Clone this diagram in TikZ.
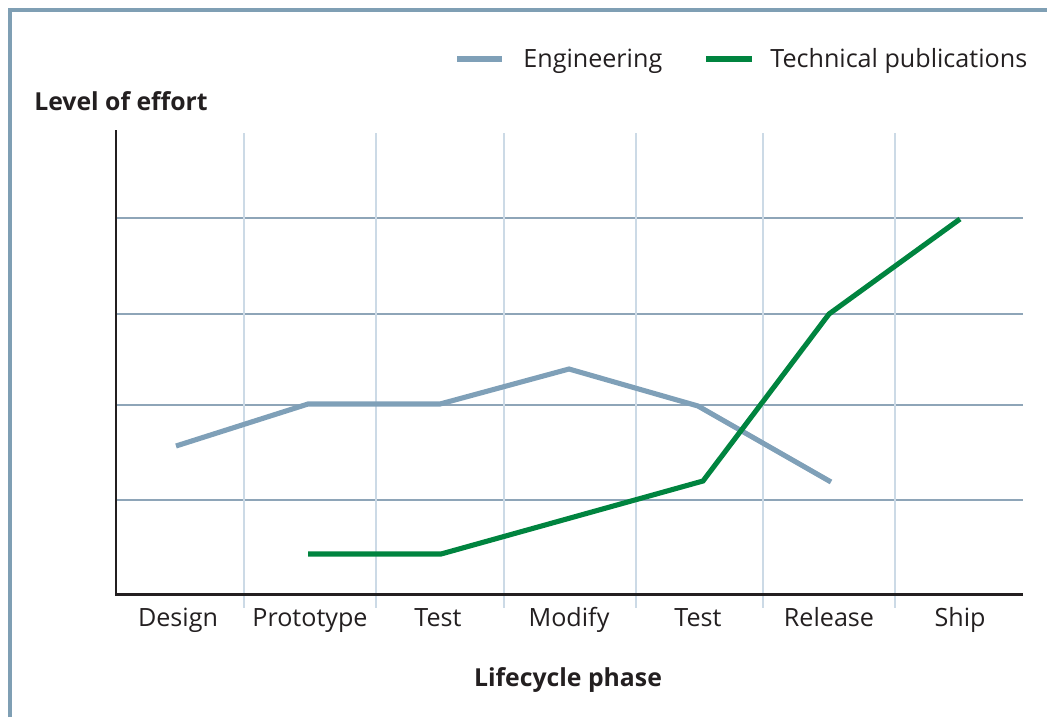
\documentclass[tikz,border=0pt]{standalone}
\usepackage{fontspec}
\setmainfont{Open Sans}
\usetikzlibrary{positioning}
\definecolor{framegray}{HTML}{7F9FB4}
\definecolor{enggray}{HTML}{7FA0B8}
\definecolor{gridgray}{HTML}{8EA5B8}
\definecolor{gridlight}{HTML}{CCDAE6}
\definecolor{pubgreen}{HTML}{00843F}
\definecolor{inkblack}{HTML}{231F20}

\begin{document}
\begin{tikzpicture}[x=0.02cm,y=-0.02cm,
    txt/.style={font=\fontsize{14.3}{17}\selectfont,text=inkblack,inner sep=0pt},
    ttl/.style={txt,font=\fontsize{14.1}{17}\selectfont\bfseries},
    phase/.style={txt,anchor=base},
    hgrid/.style={gridgray,line width=0.7pt},
    vgrid/.style={gridlight,line width=1.1pt},
    engline/.style={enggray,line width=2.9pt},
    publine/.style={pubgreen,line width=2.9pt}]
      \useasboundingbox (0,0) rectangle (1047,717);
      % Frame
      \draw[framegray,line width=2.8pt] (10,717) -- (10,10) -- (1047,10);
      % Grid
      \foreach \y in {218,314,405,500}
        \draw[hgrid] (116,\y) -- (1023,\y);
      \foreach \x in {244,376,504,636,763,895}
        \draw[vgrid] (\x,133) -- (\x,608);
      % Axes
      \coordinate (top) at (116,130);
      \coordinate (origin) at (116,594);
      \coordinate (right) at (1023,594);
      \draw[inkblack,line width=1.7pt] (top) -- (origin) -- (right);
      % Axis titles
      \node[ttl,anchor=base west] (effort) at (34,110) {Level of effort};
      \node[ttl,anchor=base] (lifecycle) at (568,686) {Lifecycle phase};
      % Phases
      \node[phase] (design) at (178,626) {Design};
      \node[phase] (prototype) at (310,626) {Prototype};
      \node[phase] (test1) at (438,626) {Test};
      \node[phase] (modify) at (569,626) {Modify};
      \node[phase] (test2) at (698,626) {Test};
      \node[phase] (release) at (829,626) {Release};
      \node[phase] (ship) at (960,626) {Ship};
      % Engineering
      \coordinate (e1) at (176,446);
      \coordinate (e2) at (308,404);
      \coordinate (e3) at (440,404);
      \coordinate (e4) at (569,369);
      \coordinate (e5) at (698,406);
      \coordinate (e6) at (831,482);
      \draw[engline] (e1) -- (e2) -- (e3) -- (e4) -- (e5) -- (e6);
      % Technical publications
      \coordinate (p1) at (308,554);
      \coordinate (p2) at (441,554);
      \coordinate (p3) at (703,481);
      \coordinate (p4) at (829,314);
      \coordinate (p5) at (960,219);
      \draw[publine] (p1) -- (p2) -- (p3) -- (p4) -- (p5);
      % Legend
      \coordinate (engA) at (457,59);
      \coordinate (engB) at (502,59);
      \draw[engline] (engA) -- (engB);
      \node[txt,anchor=base west] (englabel) at (523,67) {Engineering};
      \coordinate (pubA) at (706,59);
      \coordinate (pubB) at (752,59);
      \draw[publine] (pubA) -- (pubB);
      \node[txt,anchor=base west] (publabel) at (770,67) {Technical publications};
\end{tikzpicture}
\end{document}
